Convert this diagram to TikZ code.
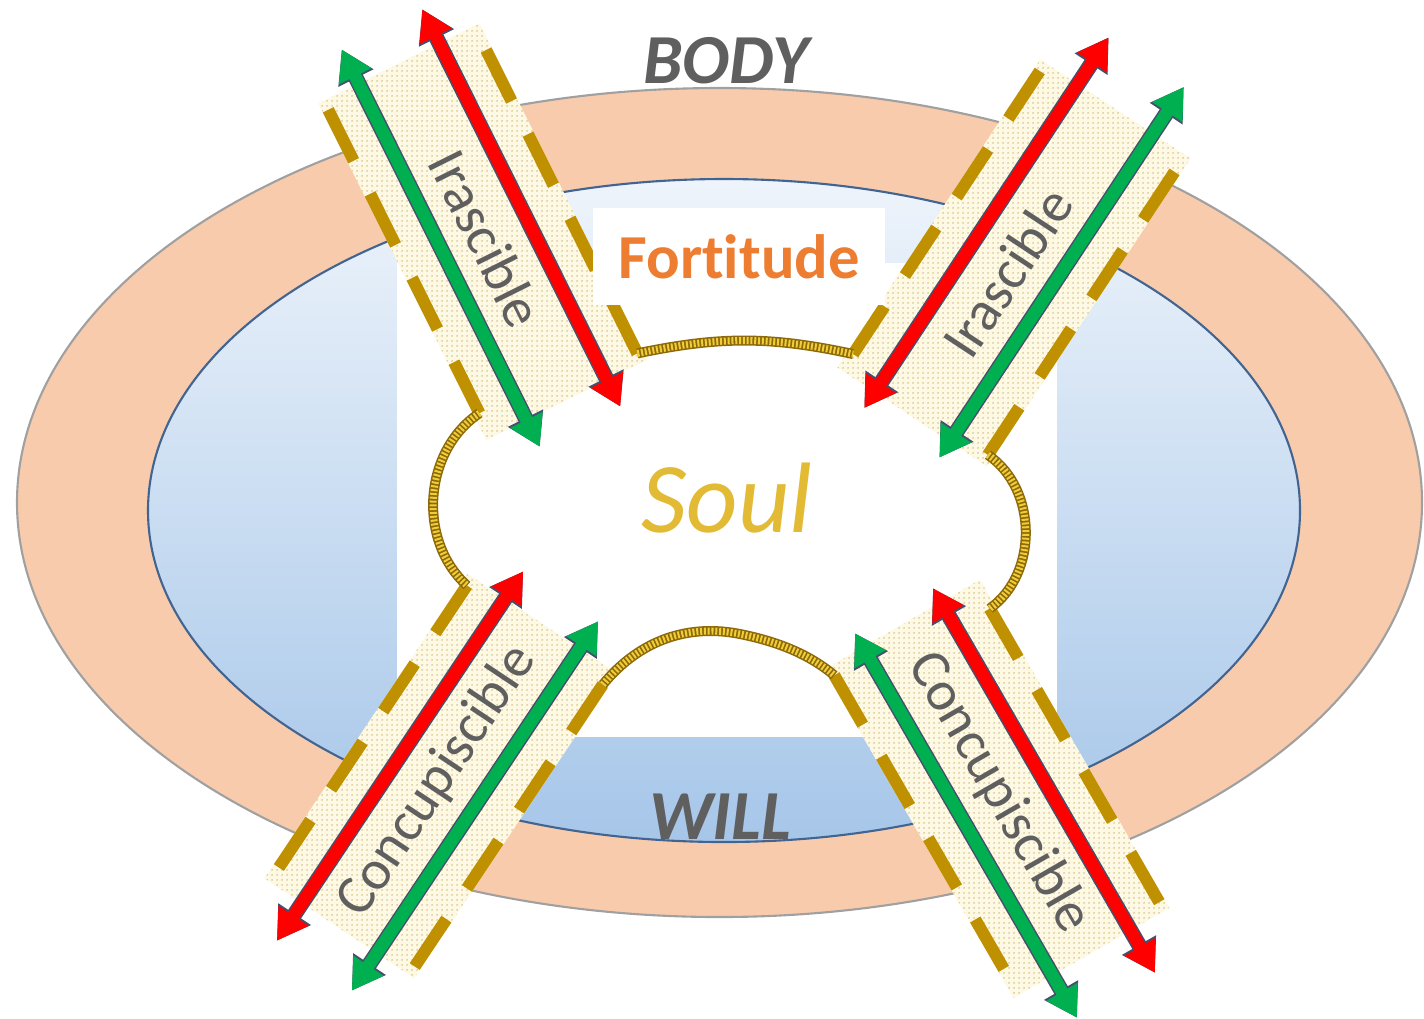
\documentclass[tikz,border=0pt]{standalone}
\usepackage{fontspec}
\setmainfont{Carlito}[Ligatures=NoCommon]
\usetikzlibrary{arrows.meta,patterns}
\definecolor{BodyPeach}{RGB}{248,203,173}
\definecolor{BodyEdge}{RGB}{160,160,160}
\definecolor{WillTop}{RGB}{238,244,251}
\definecolor{WillBottom}{RGB}{166,198,233}
\definecolor{WillEdge}{RGB}{65,100,145}
\definecolor{BandCream}{RGB}{253,249,228}
\definecolor{BandDot}{RGB}{215,198,140}
\definecolor{DashGold}{RGB}{191,144,0}
\definecolor{ArrowRed}{RGB}{255,0,0}
\definecolor{ArrowGreen}{RGB}{0,176,80}
\definecolor{ArrowEdge}{RGB}{70,80,110}
\definecolor{RopeDark}{RGB}{140,105,10}
\definecolor{RopeGold}{RGB}{240,205,55}
\definecolor{SoulGold}{RGB}{226,186,52}
\definecolor{FortOrange}{RGB}{237,125,49}
\definecolor{LabelGray}{RGB}{95,95,95}
\pgfdeclarepatternformonly{banddots}{\pgfpointorigin}{\pgfqpoint{1.3pt}{1.3pt}}%
  {\pgfqpoint{1.3pt}{1.3pt}}{\pgfpathcircle{\pgfqpoint{0.65pt}{0.65pt}}{0.3pt}\pgfusepath{fill}}
\tikzset{
  outerring/.style={fill=BodyPeach,draw=BodyEdge,line width=0.6pt},
  innerring/.style={top color=WillTop,bottom color=WillBottom,draw=WillEdge,line width=0.6pt},
  bandfill/.style={fill=BandCream,postaction={pattern=banddots,pattern color=BandDot}},
  dashline/.style={draw=DashGold,line width=0.12cm,dash pattern=on 0.57cm off 0.37cm},
  edgearrow/.style={draw=ArrowEdge,line width=0.155cm,
    {Triangle[width=0.37cm,length=0.32cm]}-{Triangle[width=0.37cm,length=0.32cm]}},
  redarrow/.style={draw=ArrowRed,line width=0.125cm,
    {Triangle[width=0.34cm,length=0.3cm]}-{Triangle[width=0.34cm,length=0.3cm]}},
  greenarrow/.style={draw=ArrowGreen,line width=0.125cm,
    {Triangle[width=0.34cm,length=0.3cm]}-{Triangle[width=0.34cm,length=0.3cm]}},
  soulrope/.style={preaction={draw=RopeDark,line width=0.1cm},
    draw=RopeGold,line width=0.07cm,dash pattern=on 0.02cm off 0.018cm},
  bandlabel/.style={font=\fontsize{16}{19}\selectfont,text=LabelGray,inner sep=0pt},
  ringlabel/.style={font=\bfseries\itshape\fontsize{20}{24}\selectfont,text=LabelGray},
  soullabel/.style={font=\itshape\fontsize{28.5}{34}\selectfont,text=SoulGold},
  fortbox/.style={fill=white,minimum width=2.92cm,minimum height=0.97cm,inner sep=0pt,
    text=FortOrange,font=\bfseries\fontsize{17.8}{21}\selectfont}
}
\begin{document}
\begin{tikzpicture}
  \useasboundingbox (0,0) rectangle (14.24,-10.18);
  % body and will rings
  \path[outerring] (7.195,-5.025) ellipse [x radius=7.025, y radius=4.145];
  \path[innerring] (7.24,-5.105) ellipse [x radius=5.76, y radius=3.315];
  \fill[white] (3.97,-2.63) rectangle (10.57,-7.37);
  % the four bands
  \foreach \nm/\cx/\cy/\ang/\txt/\tu/\pa/\pb in {
    UL/4.81/-2.28/-63.5/Irascible/0.12/-1.57/-1.74,
    UR/10.24/-2.475/56.6/Irascible/-0.30/-1.83/-1.93,
    LL/4.375/-7.81/56.3/Concupiscible/0/-1.60/-1.67,
    LR/10.05/-8.03/-60/Concupiscible/-0.12/-1.76/-1.96}
  {
    \begin{scope}[shift={(\cx,\cy)},rotate=\ang]
      \pgfmathsetmacro\fa{min(\pa,\pb)-0.1}
      \pgfmathsetmacro\fb{max(\pa,\pb)+3.49}
      \path[bandfill] (\fa,-0.9) rectangle (\fb,0.9);
      \draw[dashline] (\pa,0.84) coordinate (\nm-p1) -- ++(3.39,0) coordinate (\nm-p2);
      \draw[dashline] (\pb,-0.84) coordinate (\nm-m1) -- ++(3.39,0) coordinate (\nm-m2);
      \draw[edgearrow] (-2.22,0.45) -- (2.22,0.45);
      \draw[redarrow] (-2.22,0.45) -- (2.22,0.45);
      \draw[edgearrow] (-2.22,-0.45) -- (2.22,-0.45);
      \draw[greenarrow] (-2.22,-0.45) -- (2.22,-0.45);
      \node[bandlabel,rotate=\ang] (\nm-label) at (\tu,0) {\txt};
    \end{scope}
  }
  % soul outline
  \coordinate (soulbottom) at (7.40,-6.34);
  \draw[soulrope] (UL-p2) to[bend left=12] (UR-p1);
  \draw[soulrope] (UL-m2) to[bend right=52] (LL-p2);
  \draw[soulrope] (UR-m1) to[bend left=55] (LR-p1);
  \draw[soulrope] (LL-m2) .. controls +(0.38,0.46) and +(-0.5,0.1) .. (soulbottom)
    .. controls +(0.4,-0.08) and +(-0.24,0.2) .. (LR-m1);
  % labels
  \node[fortbox] (fortitude) at (7.39,-2.565) {Fortitude};
  \node[soullabel] (soul) at (7.27,-4.98) {Soul};
  \node[ringlabel] (body) at (7.26,-0.61) {BODY};
  \node[ringlabel] (will) at (7.20,-8.165) {WILL};
\end{tikzpicture}
\end{document}
